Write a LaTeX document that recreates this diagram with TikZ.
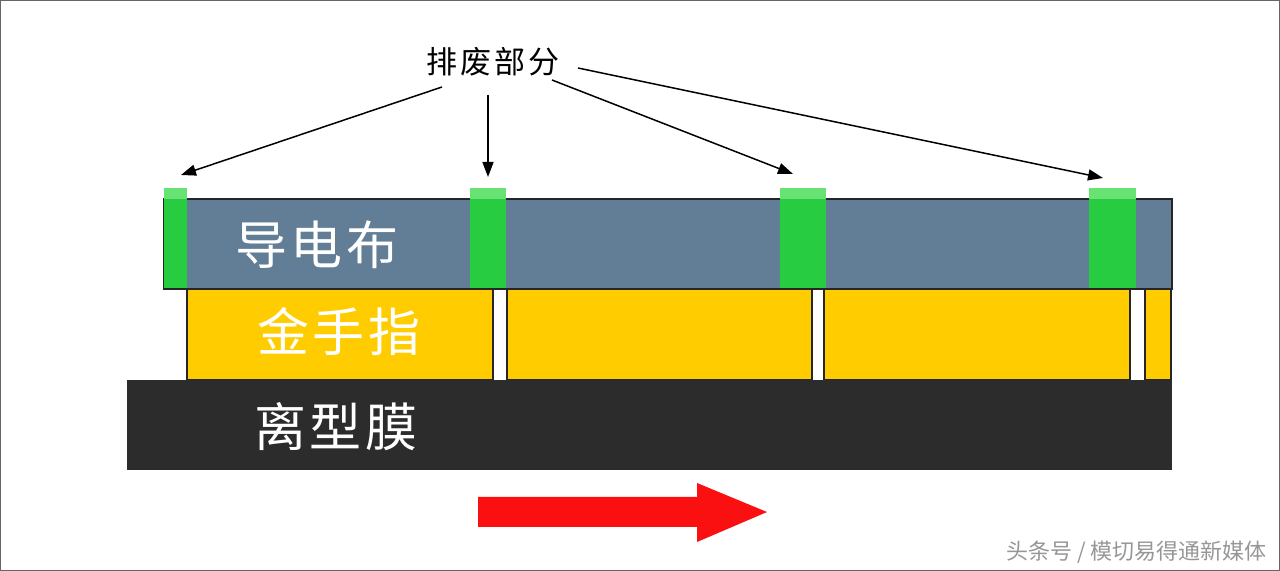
\documentclass[tikz,border=0pt]{standalone}
\usepackage{fontspec}
\setmainfont{Noto Sans CJK SC}
\usetikzlibrary{positioning}
\usetikzlibrary{arrows.meta}
\definecolor{clothColor}{RGB}{98,126,150}
\definecolor{goldColor}{RGB}{255,204,0}
\definecolor{filmColor}{RGB}{44,44,44}
\definecolor{tabColor}{RGB}{40,204,64}
\definecolor{tabColorBis}{RGB}{104,226,114}
\definecolor{flowColor}{RGB}{250,16,16}
\definecolor{markColor}{RGB}{150,150,150}

\begin{document}
\begin{tikzpicture}[x=0.5pt,y=-0.5pt]

          \tikzstyle{layerEdge} = [draw=black!85,line width=0.6pt];
          \tikzstyle{clothLayer} = [layerEdge,fill=clothColor];
          \tikzstyle{goldLayer} = [layerEdge,fill=goldColor];
          \tikzstyle{filmLayer} = [fill=filmColor];
          \tikzstyle{wasteTab} = [fill=tabColor];
          \tikzstyle{wasteTabTop} = [fill=tabColorBis];
          \tikzstyle{layerName} = [white,inner sep=0pt,font=\fontsize{26}{26}\selectfont\addfontfeatures{LetterSpace=6}];
          \tikzstyle{pointerEdge} = [line width=0.75pt,-{Triangle[length=7.5pt,width=5.5pt]}];

          \useasboundingbox (0,0) rectangle (1280,571);
          \draw[black!60] (0.5,0.5) rectangle (1279.5,570.5);

          % layers
          \path[clothLayer] (164,199) rectangle (1172,289);
          \foreach \a/\b in {187/493,507/812,824/1130,1145/1171}
            \path[goldLayer] (\a,289) rectangle (\b,380);
          \path[filmLayer] (127,380) rectangle (1172,470);

          % waste tabs
          \foreach \a/\b in {164/187,470/506,780/826,1089/1136} {
            \path[wasteTabTop] (\a,188) rectangle (\b,199);
            \path[wasteTab] (\a,199) rectangle (\b,288);
          }

          \node[layerName] (cloth) at (317,245) {导电布};
          \node[layerName] (gold) at (339,332) {金手指};
          \node[layerName] (film) at (336,427) {离型膜};

          \node[inner sep=0pt,font=\fontsize{15.5}{15.5}\selectfont\addfontfeatures{LetterSpace=10}] (waste) at (493,62) {排废部分};

          \coordinate (tip1) at (181,175);
          \coordinate (tip2) at (488,177);
          \coordinate (tip3) at (793,174);
          \coordinate (tip4) at (1103,178);

          \draw[pointerEdge] ([shift={(-51,25)}]waste.center) -- (tip1);
          \draw[pointerEdge] ([shift={(-5,33)}]waste.center) -- (tip2);
          \draw[pointerEdge] ([shift={(59,18)}]waste.center) -- (tip3);
          \draw[pointerEdge] ([shift={(85,6)}]waste.center) -- (tip4);

          % direction of travel
          \fill[flowColor] (478,497) -- (697,497) -- (697,483) -- (767,512)
            -- (697,542) -- (697,527) -- (478,527) -- cycle;

          \node[markColor,anchor=east,inner sep=0pt,font=\fontsize{11}{11}\selectfont] (credit) at (1267,552) {头条号 / 模切易得通新媒体};
        \end{tikzpicture}
\end{document}
